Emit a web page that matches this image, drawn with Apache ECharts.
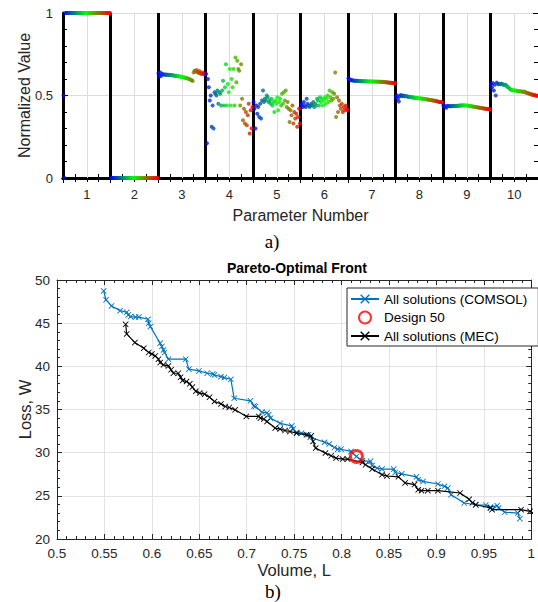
<!DOCTYPE html>
<html>
<head>
<meta charset="utf-8">
<script src="https://cdn.jsdelivr.net/npm/echarts@6/dist/echarts.min.js"></script>
<style>
html,body{margin:0;padding:0;background:#fff;}
#chart{width:538px;height:602px;}
</style>
</head>
<body>
<div id="chart"></div>
<script>
// ---------- Panel a) data ----------
const paramLabels = ['1','2','3','4','5','6','7','8','9','10'];
const paramPositions = [1,2,3,4,5,6,7,8,9,10];

const param1 = [0.5,0,1,1,1,1,1,1,1,1,1,1,1,1,1,1,1,1,1,1,1,1,1,1,1,1,1,1,1,1,1,1,1,1,1,1,1,1,1,1,1,1,1,1,1,1,1,1,1,1];
const param2 = [0,0,0,0,0,0,0,0,0,0,0,0,0,0,0,0,0,0,0,0,0,0,0,0,0,0,0,0,0,0,0,0,0,0,0,0,0,0,0,0,0,0,0,0,0,0,0,0,0,0];
const param3 = [0.635,0.615,0.64,0.62,0.63,0.628,0.627,0.626,0.627,0.625,0.626,0.624,0.625,0.623,0.624,
  0.622,0.621,0.62,0.62,0.618,0.619,0.616,0.617,0.614,0.613,
  0.612,0.61,0.611,0.608,0.606,0.605,0.603,0.60,0.598,0.595,0.592,0.588,
  0.64,0.65,0.645,0.655,0.642,0.638,0.648,0.635,0.632,0.64,0.628,0.635,0.63];
const param4 = [0.63,0.21,0.60,0.55,0.47,0.50,0.31,0.44,0.30,0.52,
  0.51,0.50,0.53,0.45,0.52,0.51,0.44,0.53,
  0.59,0.44,0.55,0.69,0.44,0.57,0.52,0.66,0.44,0.60,0.55,0.66,0.44,
  0.73,0.58,0.71,0.66,0.65,0.44,0.69,
  0.48,0.35,0.42,0.33,0.40,0.32,0.38,
  0.45,0.27,0.41,0.30,0.43];
const param5 = [0.46,0.42,0.30,0.44,0.39,0.43,0.37,0.45,0.36,0.47,
  0.53,0.46,0.48,0.47,0.50,0.49,0.46,
  0.47,0.45,0.48,0.44,0.46,0.40,0.47,0.45,0.49,0.41,0.46,0.48,0.44,
  0.51,0.45,0.52,0.47,0.53,0.43,0.46,
  0.42,0.34,0.41,0.38,0.44,0.33,0.40,0.36,
  0.39,0.31,0.37,0.42,0.33];
const param6 = [0.45,0.44,0.43,0.46,0.44,0.43,0.48,0.45,0.44,0.43,
  0.44,0.45,0.44,0.46,0.43,0.45,0.44,
  0.48,0.47,0.44,0.49,0.46,0.48,0.44,0.47,0.49,0.45,0.48,0.50,0.46,
  0.53,0.49,0.47,0.52,0.48,0.51,0.64,
  0.37,0.49,0.40,0.47,0.44,
  0.42,0.45,0.40,0.43,0.41,0.44,0.42,0.41];
const param7 = [0.605,0.598,0.595,0.592,0.593,0.591,0.590,0.590,0.589,0.589,
  0.588,0.588,0.588,0.587,0.587,0.587,0.586,0.586,0.586,0.586,
  0.585,0.585,0.585,0.586,0.585,0.585,0.584,0.584,0.585,0.584,
  0.584,0.583,0.584,0.583,0.583,0.582,0.583,0.582,0.581,0.581,
  0.580,0.579,0.579,0.578,0.577,0.577,0.576,0.576,0.575,0.575];
const param8 = [0.49,0.50,0.48,0.463,0.495,0.503,0.497,0.50,0.498,0.496,
  0.497,0.495,0.494,0.493,0.492,0.491,0.49,0.489,0.488,0.487,
  0.486,0.485,0.485,0.484,0.483,0.483,0.482,0.481,0.481,0.48,
  0.479,0.478,0.477,0.476,0.475,0.474,0.473,0.472,0.471,0.47,
  0.469,0.468,0.466,0.465,0.464,0.462,0.461,0.46,0.459,0.458];
const param9 = [0.44,0.43,0.435,0.425,0.437,0.436,0.436,0.435,0.435,0.436,
  0.436,0.437,0.437,0.436,0.437,0.438,0.438,0.439,0.44,0.44,
  0.44,0.441,0.44,0.44,0.439,0.439,0.438,0.437,0.436,0.435,
  0.434,0.433,0.432,0.431,0.43,0.429,0.428,0.427,0.426,0.425,
  0.424,0.423,0.422,0.421,0.42,0.419,0.418,0.418,0.417,0.416];
const param10 = [0.57,0.55,0.575,0.53,0.565,0.50,0.578,0.572,0.568,0.57,
  0.569,0.572,0.568,0.566,0.563,0.565,0.56,0.555,0.55,0.545,
  0.54,0.535,0.533,0.532,0.53,0.531,0.53,0.528,0.527,0.526,
  0.526,0.525,0.525,0.523,0.522,0.524,0.52,0.518,0.515,0.514,
  0.512,0.51,0.508,0.505,0.506,0.503,0.502,0.50,0.499,0.498];
const paramValues = [param1,param2,param3,param4,param5,param6,param7,param8,param9,param10];

// ---------- Panel b) data ----------
const comsolVolume = [0.5492,0.5517,0.5575,0.5665,0.5735,0.5752,0.5776,0.5828,0.5863,0.596,0.5967,0.5984,
  0.6088,0.6105,0.6123,0.6133,0.6175,0.6358,0.639,0.6497,0.6583,0.6642,0.666,0.6729,0.6764,0.6833,0.6868,
  0.704,0.7076,0.7093,0.716,0.7214,0.7232,0.725,0.7352,0.7474,0.749,0.7526,0.7578,0.7648,0.767,0.782,0.787,
  0.7925,0.796,0.7994,0.81,0.8157,0.822,0.8306,0.8323,0.8375,0.8427,0.855,0.8566,0.8635,0.879,0.8808,0.886,
  0.9016,0.9085,0.912,0.9155,0.9293,0.9415,0.952,0.957,0.964,0.9657,0.972,0.9858,0.988];
const comsolLoss = [48.73,47.7,47.0,46.45,46.26,45.95,45.76,45.7,45.7,45.45,45.0,44.6,
  42.68,42.3,41.9,41.6,40.83,40.83,39.67,39.47,39.2,39.1,39.0,38.8,38.7,38.5,36.3,
  36.0,35.4,35.35,34.7,34.6,34.4,34.0,33.4,33.1,32.73,32.34,32.26,32.07,31.8,31.2,31.0,
  30.6,30.4,30.4,30.14,29.56,29.06,29.0,28.5,28.2,28.1,28.1,27.7,27.55,27.2,26.87,26.67,
  26.37,26.1,25.9,25.13,24.17,23.97,23.94,23.7,23.86,23.6,23.1,23.0,22.35];
const mecVolume = [0.5724,0.5735,0.5821,0.5915,0.5967,0.6,0.6036,0.607,0.6088,0.6123,0.6175,0.6203,0.6227,
  0.6279,0.6303,0.6324,0.6365,0.64,0.6427,0.6463,0.6504,0.6556,0.6608,0.666,0.6729,0.6775,0.6816,0.6878,
  0.6996,0.7128,0.7145,0.718,0.7214,0.73,0.7352,0.7404,0.7456,0.7526,0.763,0.768,0.77,0.7727,0.783,0.789,
  0.7942,0.8011,0.8063,0.822,0.8254,0.8323,0.8427,0.8479,0.86,0.867,0.877,0.8808,0.8843,0.891,0.9016,
  0.925,0.9345,0.938,0.9415,0.957,0.9587,0.9893,0.9987,1.002];
const mecLoss = [44.87,43.75,42.75,42.1,41.6,41.44,41.2,40.83,40.44,40.17,40.05,39.6,39.2,
  39.2,38.75,38.35,38.24,37.97,37.6,37.1,36.9,36.78,36.43,35.92,35.65,35.35,35.23,34.96,
  34.2,34.2,34.0,33.9,33.6,32.85,32.73,32.57,32.45,32.26,32.07,31.95,31.3,30.53,29.95,29.64,
  29.37,29.26,29.26,28.87,28.6,28.1,27.45,27.3,27.2,26.5,26.3,25.7,25.6,25.6,25.6,
  25.33,24.6,24.2,23.97,23.6,23.4,23.4,23.2,23.0];
const design50 = [0.8157, 29.56];

// ---------- build ----------
const scatterData = [];
paramValues.forEach((vals, i) => {
  const n = vals.length;
  vals.forEach((v, k) => {
    scatterData.push([paramPositions[i] - 0.5 + (k + 0.5) / n, v, k / (n - 1)]);
  });
});
const zip = (a, b) => a.map((v, i) => [v, b[i]]);

const FONT = '"Liberation Sans", Arial, Helvetica, sans-serif';
const TXT = '#262626';
const xMark = 'path://M0,1L1,0L5,4L9,0L10,1L6,5L10,9L9,10L5,6L1,10L0,9L4,5Z';

const chart = echarts.init(document.getElementById('chart'), null, {renderer: 'svg'});
const option = {
  animation: false,
  backgroundColor: '#fff',
  textStyle: {fontFamily: FONT},
  grid: [
    {left: 63, top: 13, width: 476, height: 165},
    {left: 57, top: 280, width: 481, height: 259}
  ],
  visualMap: {
    type: 'continuous', show: false, dimension: 2, min: 0, max: 1, seriesIndex: 1,
    inRange: {color: ['#0000ff', '#00ff00', '#ff0000']}
  },
  xAxis: [
    { // 0: panel a value axis (data, boundaries)
      gridIndex: 0, type: 'value', min: 0.5, max: 10.5, interval: 1, position: 'bottom',
      axisLine: {show: true, lineStyle: {color: '#000', width: 3}},
      axisTick: {show: true, inside: true, length: 5, lineStyle: {color: '#000'}},
      minorTick: {show: true, splitNumber: 4, length: 4, lineStyle: {color: '#000'}},
      axisLabel: {show: false},
      splitLine: {show: true, showMaxLine: false, lineStyle: {color: '#000', width: 3}}
    },
    { // 1: panel a top
      gridIndex: 0, type: 'value', min: 0.5, max: 10.5, interval: 1, position: 'top',
      axisLine: {show: true, lineStyle: {color: '#000', width: 3}},
      axisTick: {show: true, inside: true, length: 5, lineStyle: {color: '#000'}},
      minorTick: {show: true, splitNumber: 4, length: 4, lineStyle: {color: '#000'}},
      axisLabel: {show: false}, splitLine: {show: false}
    },
    { // 2: panel a category labels
      gridIndex: 0, type: 'category', data: paramLabels, boundaryGap: true, position: 'bottom',
      axisLine: {show: false}, axisTick: {show: false}, splitLine: {show: false},
      axisLabel: {show: true, margin: 10, fontSize: 13, color: TXT, fontFamily: FONT},
      name: 'Parameter Number', nameLocation: 'middle', nameGap: 29, nameMoveOverlap: false,
      nameTextStyle: {fontSize: 16, color: TXT, fontFamily: FONT}
    },
    { // 3: panel b bottom
      gridIndex: 1, type: 'value', min: 0.5, max: 1, interval: 0.05, position: 'bottom',
      axisLine: {show: true, onZero: false, lineStyle: {color: TXT, width: 1}},
      axisTick: {show: true, inside: true, length: 5, lineStyle: {color: TXT}},
      minorTick: {show: true, splitNumber: 5, length: 3, lineStyle: {color: TXT}},
      axisLabel: {show: true, margin: 7, fontSize: 13.5, color: TXT, fontFamily: FONT},
      splitLine: {show: true, lineStyle: {color: '#e3e3e3', width: 1}},
      name: 'Volume, L', nameLocation: 'middle', nameGap: 22, nameMoveOverlap: false,
      nameTextStyle: {fontSize: 16.5, color: TXT, fontFamily: FONT}
    },
    { // 4: panel b top
      gridIndex: 1, type: 'value', min: 0.5, max: 1, interval: 0.05, position: 'top',
      axisLine: {show: true, onZero: false, lineStyle: {color: TXT, width: 1}},
      axisTick: {show: true, inside: true, length: 5, lineStyle: {color: TXT}},
      minorTick: {show: true, splitNumber: 5, length: 3, lineStyle: {color: TXT}},
      axisLabel: {show: false}, splitLine: {show: false}
    }
  ],
  yAxis: [
    { // 0: panel a left
      gridIndex: 0, type: 'value', min: 0, max: 1, interval: 0.5, position: 'left',
      axisLine: {show: true, lineStyle: {color: '#000', width: 3}},
      axisTick: {show: true, inside: true, length: 5, lineStyle: {color: '#000'}},
      minorTick: {show: true, splitNumber: 5, length: 4, lineStyle: {color: '#000'}},
      axisLabel: {show: true, margin: 10, fontSize: 13, color: TXT, fontFamily: FONT},
      splitLine: {show: true, lineStyle: {color: '#dcdcdc', width: 1}},
      name: 'Normalized Value', nameLocation: 'middle', nameGap: 31, nameMoveOverlap: false,
      nameTextStyle: {fontSize: 16, color: TXT, fontFamily: FONT}
    },
    { // 1: panel a right
      gridIndex: 0, type: 'value', min: 0, max: 1, interval: 0.5, position: 'right',
      axisLine: {show: false},
      axisTick: {show: true, inside: true, length: 5, lineStyle: {color: '#000'}},
      minorTick: {show: true, splitNumber: 5, length: 4, lineStyle: {color: '#000'}},
      axisLabel: {show: false}, splitLine: {show: false}
    },
    { // 2: panel b left
      gridIndex: 1, type: 'value', min: 20, max: 50, interval: 5, position: 'left',
      axisLine: {show: true, onZero: false, lineStyle: {color: TXT, width: 1}},
      axisTick: {show: true, inside: true, length: 5, lineStyle: {color: TXT}},
      minorTick: {show: true, splitNumber: 5, length: 3, lineStyle: {color: TXT}},
      axisLabel: {show: true, margin: 7, fontSize: 13.5, color: TXT, fontFamily: FONT},
      splitLine: {show: true, lineStyle: {color: '#e3e3e3', width: 1}},
      name: 'Loss, W', nameLocation: 'middle', nameGap: 24, nameMoveOverlap: false,
      nameTextStyle: {fontSize: 16.5, color: TXT, fontFamily: FONT}
    },
    { // 3: panel b right
      gridIndex: 1, type: 'value', min: 20, max: 50, interval: 5, position: 'right',
      axisLine: {show: true, onZero: false, lineStyle: {color: TXT, width: 1}},
      axisTick: {show: true, inside: true, length: 5, lineStyle: {color: TXT}},
      minorTick: {show: true, splitNumber: 5, length: 3, lineStyle: {color: TXT}},
      axisLabel: {show: false}, splitLine: {show: false}
    }
  ],
  legend: {
    orient: 'vertical', left: 347, top: 288,
    padding: [4, 11, 3, 3], itemGap: 4.5, itemWidth: 28, itemHeight: 12,
    backgroundColor: '#fff', borderColor: TXT, borderWidth: 1, borderRadius: 0,
    textStyle: {fontSize: 13.5, color: '#000', fontFamily: FONT},
    data: ['All solutions (COMSOL)', 'Design 50', 'All solutions (MEC)']
  },
  graphic: [
    {type: 'text', x: 297, y: 268, style: {text: 'Pareto-Optimal Front', fill: '#000',
      font: 'bold 14px ' + FONT, align: 'center', verticalAlign: 'middle', textAlign: 'center', textVerticalAlign: 'middle'}},
    {type: 'text', x: 272, y: 241, style: {text: 'a)', fill: '#000',
      font: '19px "Liberation Serif", "Times New Roman", serif', align: 'center', verticalAlign: 'middle', textAlign: 'center', textVerticalAlign: 'middle'}},
    {type: 'text', x: 273, y: 591, style: {text: 'b)', fill: '#000',
      font: '19px "Liberation Serif", "Times New Roman", serif', align: 'center', verticalAlign: 'middle', textAlign: 'center', textVerticalAlign: 'middle'}}
  ],
  series: [
    { // integer gridlines in panel a
      type: 'scatter', xAxisIndex: 0, yAxisIndex: 0, data: [], z: 1, silent: true,
      markLine: {
        z: 1, silent: true, symbol: ['none', 'none'], label: {show: false},
        lineStyle: {color: '#dcdcdc', width: 1, type: 'solid'},
        emphasis: {disabled: true},
        data: paramPositions.map(p => ({xAxis: p}))
      }
    },
    {
      type: 'scatter', xAxisIndex: 0, yAxisIndex: 0, data: scatterData,
      symbol: 'circle', symbolSize: 4, clip: false, z: 3, silent: true
    },
    {
      name: 'All solutions (COMSOL)', type: 'line', xAxisIndex: 3, yAxisIndex: 2,
      data: zip(comsolVolume, comsolLoss), color: '#0072BD',
      lineStyle: {width: 1.2, color: '#0072BD'}, itemStyle: {color: '#0072BD'},
      symbol: xMark, symbolSize: 6, showAllSymbol: true, clip: true, z: 3
    },
    {
      name: 'Design 50', type: 'scatter', xAxisIndex: 3, yAxisIndex: 2,
      data: [design50], symbol: 'circle', symbolSize: 12,
      itemStyle: {color: 'rgba(255,255,255,0)', borderColor: '#ff0000', borderWidth: 3}, z: 6
    },
    {
      name: 'All solutions (MEC)', type: 'line', xAxisIndex: 3, yAxisIndex: 2,
      data: zip(mecVolume, mecLoss), color: '#000',
      lineStyle: {width: 1.2, color: '#000'}, itemStyle: {color: '#000'},
      symbol: xMark, symbolSize: 6, showAllSymbol: true, clip: true, z: 4
    }
  ]
};
chart.setOption(option);
</script>
</body>
</html>
